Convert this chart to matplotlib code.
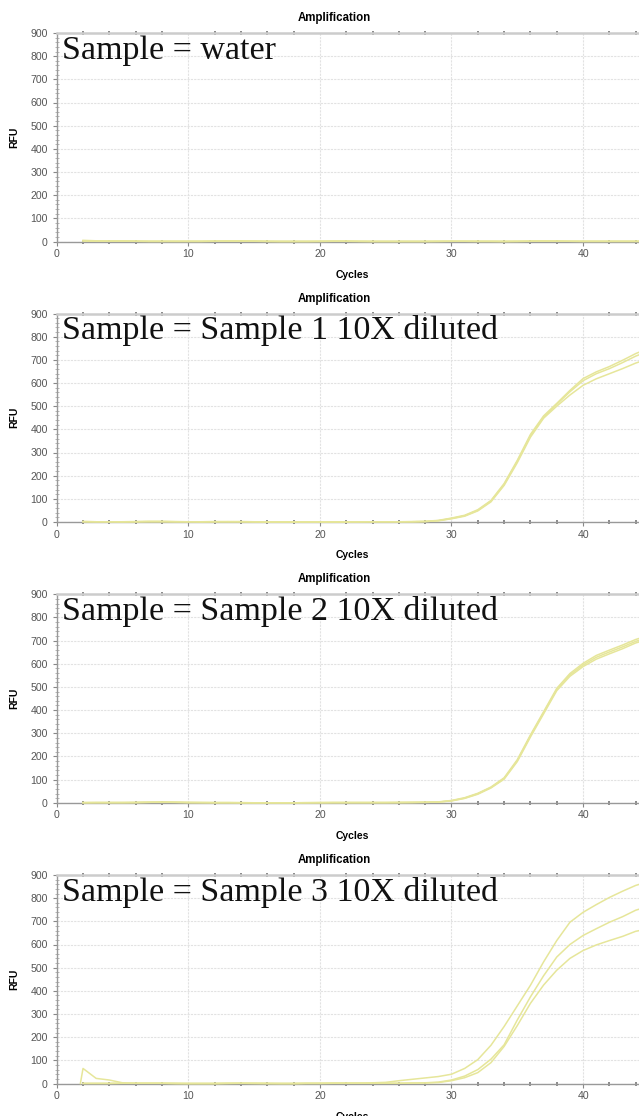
import matplotlib
matplotlib.use("Agg")
import matplotlib.pyplot as plt
from matplotlib.ticker import MultipleLocator

# cycles 2..45
cycles = list(range(2, 46))

water_a = [5, 3, 2, 3, 2, 1, 1, 1, 1, 1, 2, 3, 3, 2, 1, 1, 1, 1, 1, 2, 2, 1,
           1, 1, 1, 1, 1, 1, 1, 1, 1, 1, 1, 1, 2, 3, 2, 1, 1, 1, 1, 1, 1, 1]
water_b = [2, 1, 1, 1, 1, 0, 0, 1, 1, 1, 1, 1, 1, 1, 0, 0, 0, 0, 1, 1, 1, 0,
           0, 0, 0, 0, 0, 1, 1, 1, 0, 0, 0, 1, 1, 1, 1, 1, 0, 0, 0, 0, 0, 0]
water_c = [3, 2, 2, 2, 1, 1, 1, 0, 0, 0, 1, 2, 2, 2, 1, 0, 0, 0, 0, 1, 1, 1,
           0, 0, 0, 0, 0, 0, 1, 1, 1, 1, 0, 0, 1, 2, 2, 1, 1, 1, 1, 1, 1, 1]

s1_a = [2, 1, 1, 1, 2, 3, 2, 1, 1, 1, 2, 2, 1, 1, 0, 0, 0, 0, 0, 0, 1, 1, 1, 1, 1, 2,
        3, 7, 17, 29, 53, 93, 166, 266, 378, 458, 512, 568, 619, 648, 671, 698, 727, 750]
s1_b = [1, 1, 1, 0, 1, 2, 3, 2, 1, 1, 1, 1, 1, 0, 0, 0, 0, 0, 0, 0, 0, 1, 1, 1, 1, 1,
        2, 6, 15, 27, 50, 90, 162, 262, 372, 452, 508, 562, 610, 640, 662, 688, 716, 738]
s1_c = [2, 1, 1, 1, 1, 1, 1, 1, 1, 0, 1, 1, 2, 1, 0, 0, 0, 0, 0, 0, 0, 0, 1, 1, 1, 1,
        2, 5, 14, 25, 48, 87, 158, 256, 366, 448, 500, 548, 590, 618, 640, 662, 686, 705]

s2_a = [1, 1, 1, 1, 2, 3, 3, 2, 1, 1, 1, 1, 1, 0, 0, 0, 0, 1, 1, 1, 1, 1, 1, 1, 2, 2, 3, 4,
        10, 22, 41, 68, 108, 186, 293, 393, 494, 558, 602, 636, 659, 681, 705, 722]
s2_b = [1, 1, 1, 1, 1, 2, 4, 3, 2, 1, 1, 1, 0, 0, 0, 0, 0, 0, 1, 1, 1, 1, 1, 1, 1, 2, 2, 3,
        9, 20, 39, 66, 105, 182, 289, 389, 489, 552, 595, 628, 651, 673, 697, 714]
s2_c = [0, 1, 1, 1, 1, 2, 2, 2, 1, 1, 0, 0, 0, 0, 0, 0, 0, 0, 0, 1, 1, 1, 1, 1, 1, 1, 2, 3,
        8, 19, 37, 64, 102, 178, 284, 384, 484, 546, 588, 620, 643, 665, 690, 706]

s3_a = [1, 1, 1, 1, 1, 1, 1, 0, 0, 0, 0, 1, 1, 1, 0, 0, 0, 1, 1, 2, 2, 2,
        3, 5, 12, 18, 24, 30, 40, 65, 103, 165, 246, 335, 424, 525, 617, 696, 739, 772, 803, 830, 855, 872]
s3_b = [0, 0, 0, 1, 1, 1, 1, 1, 0, 0, 0, 0, 1, 1, 1, 0, 0, 0, 0, 1, 1, 1, 1, 1, 1, 2,
        3, 6, 15, 32, 60, 105, 167, 274, 374, 465, 546, 600, 639, 668, 696, 720, 748, 765]
# this well starts with a spike just before cycle 2
s3_c_cycles = [1.8] + cycles
s3_c = [0, 65, 22, 15, 3, 1, 1, 1, 0, 0, 0, 0, 1, 1, 0, 0, 0, 0, 1, 1, 1, 1, 1, 1, 1, 1, 2, 2,
        4, 12, 25, 47, 90, 160, 250, 346, 425, 489, 540, 574, 598, 617, 635, 657, 668]

panels = [
    ("Sample = water", [(cycles, water_a), (cycles, water_b), (cycles, water_c)]),
    ("Sample = Sample 1 10X diluted", [(cycles, s1_a), (cycles, s1_b), (cycles, s1_c)]),
    ("Sample = Sample 2 10X diluted", [(cycles, s2_a), (cycles, s2_b), (cycles, s2_c)]),
    ("Sample = Sample 3 10X diluted", [(cycles, s3_a), (cycles, s3_b), (s3_c_cycles, s3_c)]),
]

W, H = 639, 1116
fig = plt.figure(figsize=(W / 100, H / 100), dpi=100)

line_color = "#e6e69a"
sans = "Liberation Sans"
ax_left = 56.7
ax_h = 208.5
tops = [33, 313.5, 594.3, 875]

for (label, curves), top in zip(panels, tops):
    ax = fig.add_axes([ax_left / W, 1 - (top + ax_h) / H, 1 - ax_left / W, ax_h / H])
    for x, y in curves:
        ax.plot(x, y, color=line_color, lw=1.1, clip_on=False, zorder=3)

    ax.set_xlim(0, 44.25)
    ax.set_ylim(0, 900)
    ax.xaxis.set_major_locator(MultipleLocator(10))
    ax.xaxis.set_minor_locator(MultipleLocator(2))
    ax.yaxis.set_major_locator(MultipleLocator(100))
    ax.yaxis.set_minor_locator(MultipleLocator(20))
    ax.grid(True, which="major", color="#e2e2e2", lw=0.8, ls=(0, (2, 1)))
    ax.set_axisbelow(True)

    for s in ["left", "bottom"]:
        ax.spines[s].set_color("#999999")
        ax.spines[s].set_linewidth(1.0)
    ax.spines["top"].set_color("#cccccc")
    ax.spines["top"].set_linewidth(1.8)
    ax.spines["right"].set_visible(False)

    ax.tick_params(axis="both", which="major", labelsize=7.6, labelcolor="#555555",
                   color="#888888", length=3, width=0.8)
    ax.tick_params(axis="x", which="major", pad=2.5)
    ax.tick_params(axis="y", which="major", pad=3.5)
    ax.tick_params(axis="x", which="minor", length=2.5, color="#777777", direction="inout",
                   top=True, width=1.2)
    ax.tick_params(axis="y", which="minor", length=3, color="#aaaaaa", direction="inout", width=0.6)
    for t in ax.get_xticklabels() + ax.get_yticklabels():
        t.set_fontfamily(sans)

    ax.set_xlabel("Cycles", fontsize=7.5, fontweight="bold", family=sans)
    ax.xaxis.set_label_coords(0.508, -28 / ax_h)
    ax.set_ylabel("RFU", fontsize=7.5, fontweight="bold", family=sans)
    ax.yaxis.set_label_coords(-(ax_left - 19.5) / (W - ax_left), 0.5)

    ax.text(0.476, 1 + 15 / ax_h, "Amplification", transform=ax.transAxes, ha="center",
            va="center", fontsize=8.3, fontweight="bold", family=sans)
    ax.annotate(label, xy=(0, 1), xycoords="axes fraction", xytext=(3.5, -18.4),
                textcoords="offset points", ha="left", va="baseline", fontsize=24.5,
                family="Liberation Serif", color="#111111", zorder=5)

fig.savefig("out.png", dpi=100)
